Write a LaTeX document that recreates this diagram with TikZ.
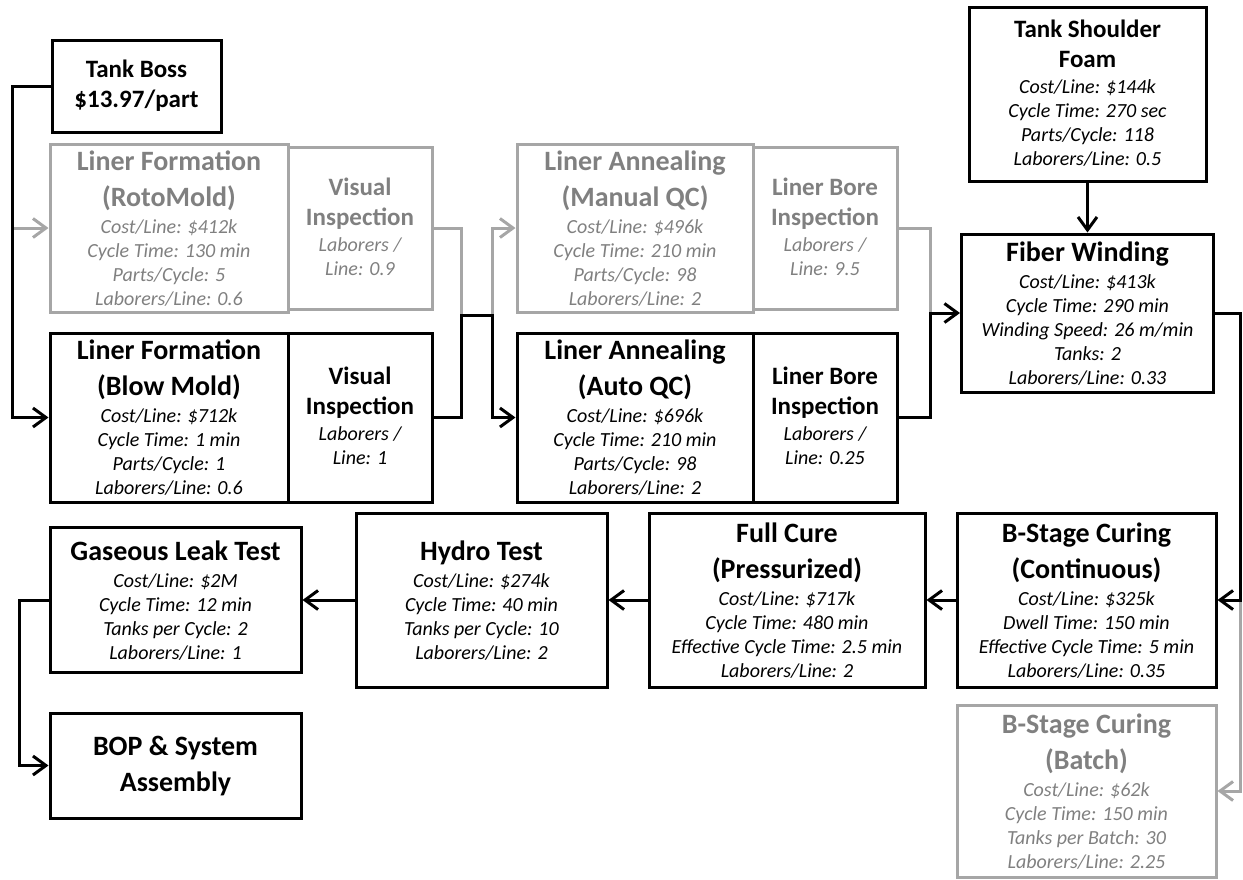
\documentclass[tikz,border=0pt]{standalone}
\usepackage{fontspec}
\setmainfont{Carlito}
\usepackage{xcolor}
\usepackage{tikz}
\usetikzlibrary{arrows.meta}

\definecolor{fadeline}{HTML}{A6A6A6}
\definecolor{fadetext}{HTML}{808080}

\newcommand{\hd}[1]{{\fontsize{14}{0}\selectfont\bfseries\rule[-5pt]{0pt}{18pt}#1}}
\newcommand{\sh}[1]{{\fontsize{12.5}{0}\selectfont\bfseries\rule[-4.5pt]{0pt}{15pt}#1}}
\newcommand{\dl}[1]{{\itshape\rule[-3.5pt]{0pt}{12pt}#1}}

\begin{document}
\begin{tikzpicture}[
  x=0.5pt,
  y=-0.5pt,
  stage/.style={
    draw=black,
    line width=1.5pt,
    align=center,
    inner sep=0pt,
    font={\fontsize{10}{0}\selectfont\lineskip=0pt\lineskiplimit=0pt}
  },
  faded/.style={stage, draw=fadeline, text=fadetext},
  link/.style={line width=1.5pt},
  altlink/.style={link, color=fadeline},
  flow/.style={link, -{Straight Barb[length=6.5pt,width=9.5pt]}},
  altflow/.style={flow, color=fadeline}
]
  \useasboundingbox (0,0) rectangle (1243,879);

  % row 1 and 2: liner steps
  \node[stage, minimum width=84.5pt, minimum height=46pt] (tboss) at (136.5,86)
    {\sh{Tank Boss}\\\sh{\$13.97/part}};

  \node[faded, minimum width=119pt, minimum height=81pt] (roto) at (169,228)
    {\hd{Liner Formation}\\\hd{(RotoMold)}\\\dl{Cost/Line: \$412k}\\
     \dl{Cycle Time: 130 min}\\\dl{Parts/Cycle: 5}\\\dl{Laborers/Line: 0.6}};
  \node[faded, minimum width=72pt, minimum height=81pt] (rvis) at (360,228)
    {\sh{Visual}\\\sh{Inspection}\\\dl{Laborers /}\\\dl{Line: 0.9}};

  \node[stage, minimum width=119pt, minimum height=84.5pt] (blow) at (169,417.5)
    {\hd{Liner Formation}\\\hd{(Blow Mold)}\\\dl{Cost/Line: \$712k}\\
     \dl{Cycle Time: 1 min}\\\dl{Parts/Cycle: 1}\\\dl{Laborers/Line: 0.6}};
  \node[stage, minimum width=72pt, minimum height=84.5pt] (bvis) at (360,417.5)
    {\sh{Visual}\\\sh{Inspection}\\\dl{Laborers /}\\\dl{Line: 1}};

  \node[faded, minimum width=118pt, minimum height=81pt] (manual) at (635,228)
    {\hd{Liner Annealing}\\\hd{(Manual QC)}\\\dl{Cost/Line: \$496k}\\
     \dl{Cycle Time: 210 min}\\\dl{Parts/Cycle: 98}\\\dl{Laborers/Line: 2}};
  \node[faded, minimum width=72pt, minimum height=81pt] (mbore) at (825,228)
    {\sh{Liner Bore}\\\sh{Inspection}\\\dl{Laborers /}\\\dl{Line: 9.5}};

  \node[stage, minimum width=118pt, minimum height=84.5pt] (auto) at (635,417.5)
    {\hd{Liner Annealing}\\\hd{(Auto QC)}\\\dl{Cost/Line: \$696k}\\
     \dl{Cycle Time: 210 min}\\\dl{Parts/Cycle: 98}\\\dl{Laborers/Line: 2}};
  \node[stage, minimum width=72pt, minimum height=84.5pt] (abore) at (825,417.5)
    {\sh{Liner Bore}\\\sh{Inspection}\\\dl{Laborers /}\\\dl{Line: 0.25}};

  \node[stage, minimum width=118.5pt, minimum height=87pt] (foam) at (1087.5,94)
    {\sh{Tank Shoulder}\\\sh{Foam}\\\dl{Cost/Line: \$144k}\\
     \dl{Cycle Time: 270 sec}\\\dl{Parts/Cycle: 118}\\\dl{Laborers/Line: 0.5}};
  \node[stage, minimum width=126pt, minimum height=79pt] (fiber) at (1087.5,313)
    {\hd{Fiber Winding}\\\dl{Cost/Line: \$413k}\\\dl{Cycle Time: 290 min}\\
     \dl{Winding Speed: 26 m/min}\\\dl{Tanks: 2}\\\dl{Laborers/Line: 0.33}};

  % row 3: curing and tests
  \node[stage, minimum width=129.5pt, minimum height=87pt] (bcont) at (1086.5,600)
    {\hd{B-Stage Curing}\\\hd{(Continuous)}\\\dl{Cost/Line: \$325k}\\
     \dl{Dwell Time: 150 min}\\\dl{Effective Cycle Time: 5 min}\\\dl{Laborers/Line: 0.35}};
  \node[faded, minimum width=129.5pt, minimum height=86pt] (batch) at (1086.5,791)
    {\hd{B-Stage Curing}\\\hd{(Batch)}\\\dl{Cost/Line: \$62k}\\
     \dl{Cycle Time: 150 min}\\\dl{Tanks per Batch: 30}\\\dl{Laborers/Line: 2.25}};
  \node[stage, minimum width=138pt, minimum height=87pt] (cure) at (787,600)
    {\hd{Full Cure}\\\hd{(Pressurized)}\\\dl{Cost/Line: \$717k}\\
     \dl{Cycle Time: 480 min}\\\dl{Effective Cycle Time: 2.5 min}\\\dl{Laborers/Line: 2}};
  \node[stage, minimum width=125.5pt, minimum height=87pt] (hydro) at (481.5,600)
    {\hd{Hydro Test}\\\dl{Cost/Line: \$274k}\\\dl{Cycle Time: 40 min}\\
     \dl{Tanks per Cycle: 10}\\\dl{Laborers/Line: 2}};
  \node[stage, minimum width=125.5pt, minimum height=72.5pt] (gas) at (175.5,600)
    {\hd{Gaseous Leak Test}\\\dl{Cost/Line: \$2M}\\\dl{Cycle Time: 12 min}\\
     \dl{Tanks per Cycle: 2}\\\dl{Laborers/Line: 1}};
  \node[stage, minimum width=125.5pt, minimum height=52.5pt] (bop) at (175.5,765.5)
    {\hd{BOP \& System}\\\hd{Assembly}};

  \coordinate (lrail) at (12,0);
  \coordinate (m1) at (461,315);
  \coordinate (m2) at (492,315);
  \coordinate (m3) at (930,313);
  \coordinate (rrail) at (1240,0);
  \coordinate (brail) at (19,0);

  % faded alternatives
  \draw[altflow] (roto.west -| lrail) -- (roto.west);
  \draw[altlink] (rvis.east) -| (m1);
  \draw[altflow] (m2) |- (manual.west);
  \draw[altlink] (mbore.east) -| (m3);
  \draw[altflow] (bcont.east -| rrail) |- (batch.east);

  % chosen route
  \draw[flow] (tboss.west) -- (tboss.west -| lrail) -- (blow.west -| lrail) -- (blow.west);
  \draw[flow] (bvis.east) -| (m1) -- (m2) |- (auto.west);
  \draw[flow] (abore.east) -| (m3) -- (fiber.west);
  \draw[flow] (foam.south) -- (fiber.north);
  \draw[flow] (fiber.east) -- (fiber.east -| rrail) -- (bcont.east -| rrail) -- (bcont.east);
  \draw[flow] (bcont.west) -- (cure.east);
  \draw[flow] (cure.west) -- (hydro.east);
  \draw[flow] (hydro.west) -- (gas.east);
  \draw[flow] (gas.west) -- (gas.west -| brail) |- (bop.west);
\end{tikzpicture}
\end{document}
